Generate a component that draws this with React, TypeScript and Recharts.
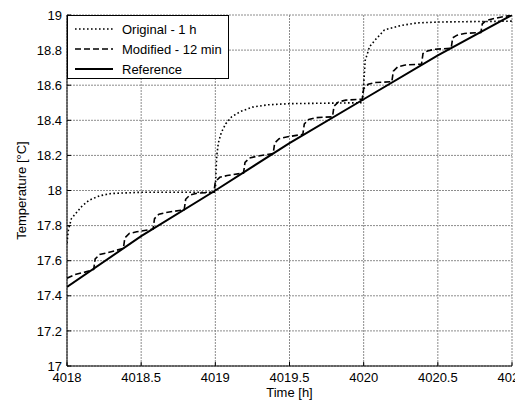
import { LineChart, Line, XAxis, YAxis, CartesianGrid, Legend } from 'recharts';

const xTicks = [4018, 4018.5, 4019, 4019.5, 4020, 4020.5, 4021];
const yTicks = [17, 17.2, 17.4, 17.6, 17.8, 18, 18.2, 18.4, 18.6, 18.8, 19];

// Original - 1 h
const origTime = [4018, 4018.01, 4018.03, 4018.06, 4018.1, 4018.15, 4018.22, 4018.3, 4018.5, 4019.0, 4019.005, 4019.01, 4019.02, 4019.04, 4019.07, 4019.11, 4019.17, 4019.25, 4019.35, 4019.5, 4019.99, 4020.0, 4020.01, 4020.04, 4020.08, 4020.14, 4020.25, 4020.36, 4020.5, 4021];
const origTemp = [17.70, 17.78, 17.84, 17.87, 17.91, 17.945, 17.97, 17.983, 17.99, 17.99, 18.12, 18.2, 18.27, 18.33, 18.38, 18.42, 18.45, 18.475, 18.488, 18.495, 18.5, 18.6, 18.74, 18.82, 18.86, 18.915, 18.94, 18.955, 18.96, 18.965];

// Modified - 12 min
const modTime = [4018, 4018.05, 4018.12, 4018.18, 4018.19, 4018.22, 4018.27, 4018.38, 4018.39, 4018.42, 4018.47, 4018.58, 4018.59, 4018.62, 4018.67, 4018.79, 4018.8, 4018.83, 4018.88, 4018.99, 4019.0, 4019.03, 4019.08, 4019.19, 4019.2, 4019.23, 4019.28, 4019.39, 4019.4, 4019.43, 4019.48, 4019.59, 4019.6, 4019.63, 4019.68, 4019.79, 4019.8, 4019.83, 4019.88, 4019.99, 4020.0, 4020.03, 4020.08, 4020.19, 4020.2, 4020.23, 4020.28, 4020.39, 4020.4, 4020.43, 4020.48, 4020.59, 4020.6, 4020.63, 4020.68, 4020.79, 4020.8, 4020.83, 4020.88, 4021];
const modTemp = [17.50, 17.52, 17.535, 17.55, 17.61, 17.635, 17.645, 17.67, 17.73, 17.755, 17.765, 17.78, 17.84, 17.865, 17.875, 17.89, 17.95, 17.975, 17.985, 17.99, 18.05, 18.075, 18.085, 18.10, 18.16, 18.185, 18.195, 18.21, 18.27, 18.295, 18.305, 18.32, 18.38, 18.405, 18.415, 18.42, 18.48, 18.505, 18.515, 18.52, 18.58, 18.605, 18.615, 18.62, 18.68, 18.705, 18.715, 18.72, 18.78, 18.795, 18.805, 18.81, 18.87, 18.885, 18.895, 18.90, 18.95, 18.97, 18.98, 19.0];

// Reference
const refTime = [4018, 4018.5, 4019, 4019.5, 4020, 4020.5, 4021];
const refTemp = [17.45, 17.74, 18.0, 18.27, 18.52, 18.77, 19.0];

const zip = (ts: number[], vs: number[]) => ts.map((t, i) => ({ t, v: vs[i] }));

const series = [
  { name: 'Original - 1 h', data: zip(origTime, origTemp), dash: '1.6 2.4', width: 1.6 },
  { name: 'Modified - 12 min', data: zip(modTime, modTemp), dash: '6 3', width: 1.6 },
  { name: 'Reference', data: zip(refTime, refTemp), dash: undefined, width: 2 },
];

const font = '"Liberation Sans", Arial, Helvetica, sans-serif';
const tickStyle = { fill: '#000', fontSize: 13, fontFamily: font };

function LegendBox() {
  return (
    <div style={{ width: 162, height: 64, boxSizing: 'border-box', border: '1px solid #000', background: '#fff', paddingTop: 3, fontFamily: font, fontSize: 13, color: '#000' }}>
      {series.map((s) => (
        <div key={s.name} style={{ height: 20, display: 'flex', alignItems: 'center' }}>
          <svg width={48} height={20} style={{ flex: 'none' }}>
            <line x1={7} x2={45} y1={10} y2={10} stroke="#000" strokeWidth={s.width} strokeDasharray={s.dash} />
          </svg>
          <span style={{ marginLeft: 6, whiteSpace: 'nowrap' }}>{s.name}</span>
        </div>
      ))}
    </div>
  );
}

function YLabel({ viewBox }: any) {
  const x = viewBox.x + 13;
  const y = viewBox.y + viewBox.height / 2;
  return (
    <text x={x} y={y} transform={`rotate(-90, ${x}, ${y})`} textAnchor="middle" dominantBaseline="central" fontSize={13} fontFamily={font} fill="#000">
      Temperature [°C]
    </text>
  );
}

function XLabel({ viewBox }: any) {
  return (
    <text x={viewBox.x + viewBox.width / 2} y={viewBox.y + viewBox.height - 3} textAnchor="middle" fontSize={13} fontFamily={font} fill="#000">
      Time [h]
    </text>
  );
}

export default function App() {
  return (
    <div style={{ width: 515, height: 392, position: 'relative' }}>
      <LineChart width={515} height={392} margin={{ top: 7, right: 11, left: 0, bottom: 0 }}>
        <CartesianGrid stroke="#8c8c8c" strokeDasharray="2 1" xAxisId="bottom" yAxisId="left" horizontalValues={yTicks} verticalValues={xTicks} />
        <XAxis xAxisId="bottom" dataKey="t" type="number" domain={[4018, 4021]} ticks={xTicks} allowDataOverflow
          height={34} tick={tickStyle} tickSize={-4} tickMargin={11} stroke="#000" interval={0} label={<XLabel />} />
        <XAxis xAxisId="top" orientation="top" dataKey="t" type="number" domain={[4018, 4021]} ticks={xTicks} allowDataOverflow
          height={0} tickFormatter={() => ''} tickSize={-4} stroke="#000" interval={0} />
        <YAxis yAxisId="left" type="number" domain={[17, 19]} ticks={yTicks} allowDataOverflow
          width={59} tick={tickStyle} tickSize={-4} tickMargin={9} stroke="#000" interval={0} label={<YLabel />} />
        <YAxis yAxisId="right" orientation="right" type="number" domain={[17, 19]} ticks={yTicks} allowDataOverflow
          width={0} tickFormatter={() => ''} tickSize={-4} stroke="#000" interval={0} />
        {series.map((s) => (
          <Line key={s.name} xAxisId="bottom" yAxisId="left" data={s.data} dataKey="v" name={s.name} type="linear"
            stroke="#000" strokeWidth={s.width} strokeDasharray={s.dash} dot={false} isAnimationActive={false} />
        ))}
        <Legend layout="vertical" align="center" verticalAlign="middle" content={<LegendBox />}
          wrapperStyle={{ left: 59, top: 7, width: 162, height: 64 }} />
      </LineChart>
    </div>
  );
}
